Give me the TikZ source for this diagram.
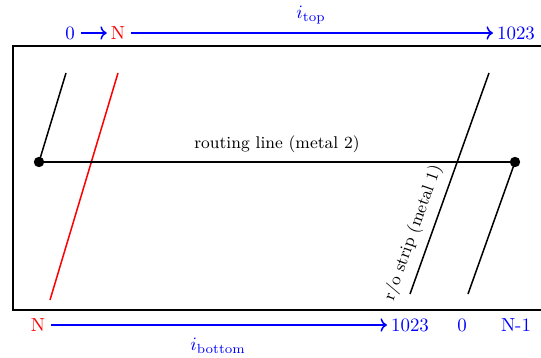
\documentclass[tikz,border=0pt]{standalone}
\usepackage{amsmath}
\usepackage{tikz}
\usetikzlibrary{arrows.meta, positioning, calc}
\tikzset{
	idx/.style={text=blue, inner sep=1pt, font=\normalsize},
	idxred/.style={text=red, inner sep=1pt, font=\normalsize},
	idxarrow/.style={->, thick, blue, shorten >=1pt, shorten <=2pt},
	strip/.style={thick, black},
	stripred/.style={thick, red},
	wire/.style={thick, black},
	via/.style={circle, fill=black, inner sep=0pt, minimum size=5.5pt},
}

\begin{document}
\begin{tikzpicture}[x=0.0186cm, y=-0.0186cm]
			\useasboundingbox (0,0) rectangle (541,358);
			% chip outline
			\draw[thick] (13,46) rectangle (548,310);
			% top index
			\node[idx] (zeroT) at (70,33) {0};
			\node[idxred] (nT) at (118,33) {N};
			\node[idx] (endT) at (516,33) {1023};
			\draw[idxarrow] (zeroT) -- (nT);
			\draw[idxarrow] (nT) -- (endT) node[midway, above=1pt, text=blue] {$i_{\text{top}}$};
			% bottom index
			\node[idxred] (nB) at (38,325) {N};
			\node[idx] (endB) at (410,325) {1023};
			\node[idx] (zeroB) at (462,325) {0};
			\node[idx] (nmB) at (516,325) {N-1};
			\draw[idxarrow] (nB) -- (endB) node[midway, below=3pt, text=blue] {$i_{\text{bottom}}$};
			% strips
			\coordinate (sA0) at (66,73);
			\coordinate (sA1) at (39,162);
			\coordinate (sR0) at (118,73);
			\coordinate (sR1) at (50,300);
			\coordinate (sB0) at (489,73);
			\coordinate (sB1) at (410,294);
			\coordinate (sC1) at (468,294);
			\node[via] (vL) at (sA1) {};
			\node[via] (vR) at (515,162) {};
			\draw[strip] (sA0) -- (vL.center);
			\draw[stripred] (sR0) -- (sR1);
			\draw[strip] (sB1) -- (sB0) node[pos=0.25, above=1pt, sloped, font=\small] {r/o strip (metal 1)};
			\draw[strip] (vR.center) -- (sC1);
			% routing line
			\draw[wire] (vL.center) -- (vR.center) node[midway, above=1pt, font=\small] {routing line (metal 2)};
\end{tikzpicture}
\end{document}
